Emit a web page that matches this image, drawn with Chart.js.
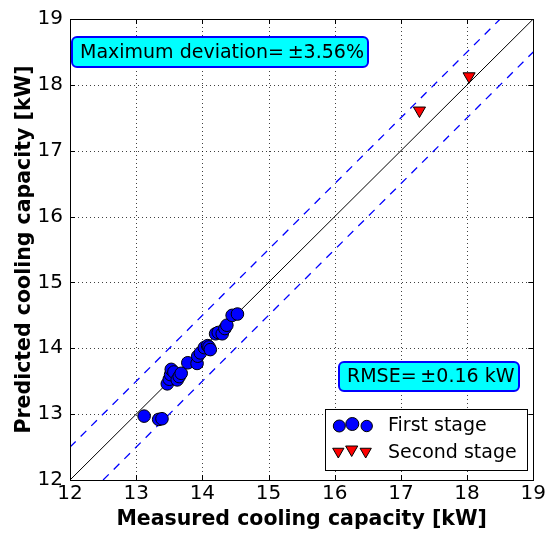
<!DOCTYPE html>
<html>
<head>
<meta charset="utf-8">
<script src="https://cdn.jsdelivr.net/npm/chart.js@4.4.1/dist/chart.umd.min.js"></script>
<style>
html,body{margin:0;padding:0;background:#fff;}
#wrap{width:548px;height:537px;}
</style>
</head>
<body>
<div id="wrap"><canvas id="c" width="548" height="537"></canvas></div>
<script>
// ---- data ----
const firstStageX = [13.12, 13.34, 13.39, 13.47, 13.50, 13.52, 13.53, 13.57, 13.62, 13.65, 13.68, 13.78, 13.92, 13.93, 13.97, 14.03, 14.08, 14.10, 14.12, 14.20, 14.24, 14.30, 14.34, 14.37, 14.45, 14.53];
const firstStageY = [12.97, 12.92, 12.93, 13.46, 13.53, 13.60, 13.68, 13.64, 13.52, 13.57, 13.62, 13.78, 13.77, 13.88, 13.93, 14.01, 14.04, 14.02, 13.98, 14.22, 14.24, 14.22, 14.30, 14.35, 14.50, 14.52];
const secondStageX = [17.28, 18.03];
const secondStageY = [17.61, 18.13];
const axisMin = 12, axisMax = 19;
const tickValues = [12, 13, 14, 15, 16, 17, 18, 19];
const deviationOffset = 0.5;
const seriesLabels = ['First stage', 'Second stage'];
const annotationTexts = ['Maximum deviation=\u2009\u00b13.56%', 'RMSE=\u2009\u00b10.16 kW'];
const xTitle = 'Measured cooling capacity [kW]';
const yTitle = 'Predicted cooling capacity [kW]';

const FONT = "'DejaVu Sans', sans-serif";
const toPts = (xs, ys) => xs.map((x, i) => ({x: x, y: ys[i]}));

const overlay = {
  id: 'overlay',
  beforeDatasetsDraw(chart) {
    const ctx = chart.ctx;
    const a = chart.chartArea;
    const xs = chart.scales.x, ys = chart.scales.y;
    ctx.save();
    ctx.strokeStyle = 'rgba(0,0,0,0.75)';
    ctx.lineWidth = 1;
    ctx.setLineDash([1, 3]);
    tickValues.slice(1, -1).forEach(v => {
      const px = Math.round(xs.getPixelForValue(v)) + 0.5;
      const py = Math.round(ys.getPixelForValue(v)) + 0.5;
      ctx.beginPath();
      ctx.moveTo(px, a.top); ctx.lineTo(px, a.bottom);
      ctx.moveTo(a.left, py); ctx.lineTo(a.right, py);
      ctx.stroke();
    });
    ctx.restore();
  },
  afterDraw(chart) {
    const ctx = chart.ctx;
    const a = chart.chartArea;
    const xs = chart.scales.x, ys = chart.scales.y;
    ctx.save();
    // inward ticks
    ctx.strokeStyle = '#000'; ctx.lineWidth = 1;
    tickValues.forEach(v => {
      const px = Math.round(xs.getPixelForValue(v)) + 0.5;
      const py = Math.round(ys.getPixelForValue(v)) + 0.5;
      ctx.beginPath();
      ctx.moveTo(px, a.bottom); ctx.lineTo(px, a.bottom - 5);
      ctx.moveTo(px, a.top); ctx.lineTo(px, a.top + 5);
      ctx.moveTo(a.left, py); ctx.lineTo(a.left + 5, py);
      ctx.moveTo(a.right, py); ctx.lineTo(a.right - 5, py);
      ctx.stroke();
    });
    // frame
    ctx.strokeRect(Math.round(a.left) + 0.5, Math.round(a.top) + 0.5, Math.round(a.right - a.left), Math.round(a.bottom - a.top));

    // annotation boxes
    function box(x, y, w, h, text, tx) {
      ctx.beginPath();
      ctx.roundRect(x, y, w, h, 5);
      ctx.fillStyle = '#00ffff';
      ctx.fill();
      ctx.lineWidth = 2;
      ctx.strokeStyle = '#0000ff';
      ctx.stroke();
      ctx.fillStyle = '#000';
      ctx.font = '19px ' + FONT;
      ctx.textBaseline = 'middle';
      ctx.textAlign = 'left';
      ctx.fillText(text, tx, y + h / 2 + 1);
    }
    box(72, 37, 296, 30, annotationTexts[0], 80);
    box(339, 362, 180, 29, annotationTexts[1], 347);

    // legend
    ctx.lineWidth = 1;
    ctx.strokeStyle = '#000';
    ctx.fillStyle = '#fff';
    ctx.fillRect(325.5, 409.5, 202, 61);
    ctx.strokeRect(325.5, 409.5, 202, 61);
    const circ = [[339.3, 426, 6], [352.3, 424, 6.5], [366.7, 426, 5.7]];
    circ.forEach(c => {
      ctx.beginPath(); ctx.arc(c[0], c[1], c[2], 0, Math.PI * 2);
      ctx.fillStyle = '#0000ff'; ctx.fill(); ctx.strokeStyle = '#000'; ctx.stroke();
    });
    const tri = [[338.3, 451.5, 6.5], [351.7, 449.5, 7], [365.7, 451.5, 6.5]];
    tri.forEach(t => {
      const [x, y, r] = t;
      ctx.beginPath();
      ctx.moveTo(x, y + r);
      ctx.lineTo(x - r * Math.sqrt(3) / 2, y - r / 2);
      ctx.lineTo(x + r * Math.sqrt(3) / 2, y - r / 2);
      ctx.closePath();
      ctx.fillStyle = '#ff0000'; ctx.fill(); ctx.strokeStyle = '#000'; ctx.stroke();
    });
    ctx.fillStyle = '#000';
    ctx.font = '19px ' + FONT;
    ctx.textBaseline = 'middle';
    ctx.textAlign = 'left';
    ctx.fillText(seriesLabels[0], 388, 426);
    ctx.fillText(seriesLabels[1], 388, 453);
    ctx.restore();
  }
};

new Chart(document.getElementById('c'), {
  type: 'scatter',
  data: {
    datasets: [
      {
        label: seriesLabels[0],
        data: toPts(firstStageX, firstStageY),
        backgroundColor: '#0000ff', borderColor: '#000', borderWidth: 1,
        pointRadius: 6.3, pointHoverRadius: 6.3, order: 1
      },
      {
        label: seriesLabels[1],
        data: toPts(secondStageX, secondStageY),
        backgroundColor: '#ff0000', borderColor: '#000', borderWidth: 1,
        pointStyle: 'triangle', rotation: 180, pointRadius: 7, pointHoverRadius: 7, order: 0
      },
      {
        label: 'ideal', type: 'line',
        data: [{x: axisMin, y: axisMin}, {x: axisMax, y: axisMax}],
        borderColor: '#000', borderWidth: 1, pointRadius: 0, fill: false, order: 3
      },
      {
        label: 'upper', type: 'line',
        data: [{x: axisMin, y: axisMin + deviationOffset}, {x: axisMax - deviationOffset, y: axisMax}],
        borderColor: '#0000ff', borderWidth: 1.3, borderDash: [8, 7], pointRadius: 0, fill: false, order: 4
      },
      {
        label: 'lower', type: 'line',
        data: [{x: axisMin + deviationOffset, y: axisMin}, {x: axisMax, y: axisMax - deviationOffset}],
        borderColor: '#0000ff', borderWidth: 1.3, borderDash: [8, 7], pointRadius: 0, fill: false, order: 4
      }
    ]
  },
  options: {
    responsive: false,
    animation: false,
    devicePixelRatio: 1,
    layout: {padding: {left: 0, right: 12, top: 15, bottom: 0}},
    plugins: {legend: {display: false}, tooltip: {enabled: false}},
    scales: {
      x: {
        type: 'linear', min: axisMin, max: axisMax,
        afterBuildTicks: s => { s.ticks = tickValues.map(v => ({value: v})); },
        afterFit: s => { s.height = 57; },
        ticks: {color: '#000', font: {family: FONT, size: 20}, padding: 2, maxRotation: 0},
        grid: {display: false, drawTicks: false},
        border: {display: false},
        title: {display: true, text: xTitle, color: '#000', font: {family: FONT, size: 20.5, weight: 'bold'}, padding: {top: 0, bottom: 5}}
      },
      y: {
        type: 'linear', min: axisMin, max: axisMax,
        afterBuildTicks: s => { s.ticks = tickValues.map(v => ({value: v})); },
        afterFit: s => { s.width = 70; },
        ticks: {color: '#000', font: {family: FONT, size: 20}, padding: 7},
        grid: {display: false, drawTicks: false},
        border: {display: false},
        title: {display: true, text: yTitle, color: '#000', font: {family: FONT, size: 20.5, weight: 'bold'}, padding: {top: 12, bottom: 0}}
      }
    }
  },
  plugins: [overlay]
});
</script>
</body>
</html>
